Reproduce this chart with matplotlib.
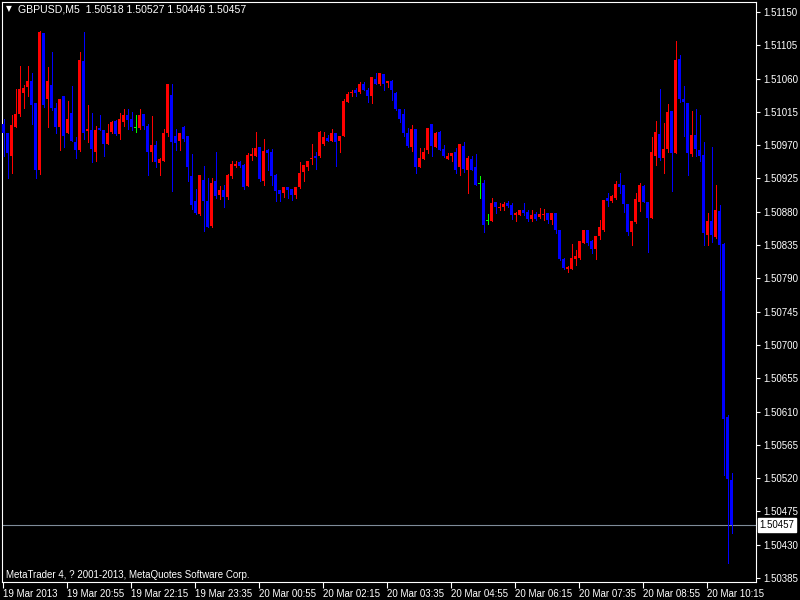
import matplotlib
matplotlib.use("Agg")
import matplotlib.pyplot as plt

# GBPUSD M5, one bar every 5 minutes starting 19 Mar 2013 19:35
opens = [
    1.50998, 1.50986, 1.50956, 1.50995, 1.51012, 1.51041, 1.51049, 1.51057, 1.51027, 1.50937,
    1.51122, 1.51033, 1.51051, 1.51020, 1.50994, 1.51036, 1.50986, 1.51013, 1.50974, 1.50964,
    1.51084, 1.50989, 1.50991, 1.50961, 1.50993, 1.50990, 1.50971, 1.50988, 1.51003, 1.50985,
    1.51002, 1.51011, 1.51006, 1.50993, 1.50993, 1.51012, 1.50996, 1.50961, 1.50970, 1.50946,
    1.50948, 1.50987, 1.51038, 1.50983, 1.50975, 1.50994, 1.50983, 1.50929, 1.50895, 1.50877,
    1.50923, 1.50894, 1.50861, 1.50921, 1.50902, 1.50910, 1.50900, 1.50929, 1.50942, 1.50947,
    1.50943, 1.50915, 1.50956, 1.50956, 1.50967, 1.50921, 1.50964, 1.50961, 1.50930, 1.50910,
    1.50905, 1.50913, 1.50911, 1.50902, 1.50914, 1.50934, 1.50941, 1.50951, 1.50956, 1.50955,
    1.50971, 1.50980, 1.50975, 1.50987, 1.50975, 1.50982, 1.51029, 1.51040, 1.51045, 1.51042,
    1.51053, 1.51045, 1.51037, 1.51060, 1.51053, 1.51066, 1.51054, 1.51057, 1.51040, 1.51019,
    1.51012, 1.50986, 1.50968, 1.50992, 1.50941, 1.50951, 1.50964, 1.50999, 1.50968, 1.50988,
    1.50965, 1.50951, 1.50956, 1.50961, 1.50941, 1.50969, 1.50937, 1.50951, 1.50940, 1.50917,
    1.50919, 1.50868, 1.50868, 1.50893, 1.50885, 1.50887, 1.50892, 1.50889, 1.50875, 1.50875,
    1.50883, 1.50880, 1.50870, 1.50877, 1.50873, 1.50875, 1.50879, 1.50869, 1.50878, 1.50856,
    1.50816, 1.50802, 1.50802, 1.50816, 1.50817, 1.50838, 1.50856, 1.50840, 1.50829, 1.50847,
    1.50856, 1.50899, 1.50894, 1.50898, 1.50918, 1.50916, 1.50891, 1.50853, 1.50866, 1.50893,
    1.50915, 1.50893, 1.50872, 1.50956, 1.50985, 1.50952, 1.50965, 1.51016, 1.50960, 1.51086,
    1.51033, 1.51027, 1.50958, 1.50984, 1.50964, 1.50957, 1.50849, 1.50868, 1.50846, 1.50881,
    1.50836, 1.50603, 1.50518,
]
highs = [
    1.51006, 1.50987, 1.51011, 1.51046, 1.51077, 1.51051, 1.51077, 1.51067, 1.51027, 1.51124,
    1.51122, 1.51076, 1.51096, 1.51027, 1.51033, 1.51036, 1.51030, 1.51050, 1.50981, 1.51096,
    1.51123, 1.51024, 1.51014, 1.50996, 1.51011, 1.50990, 1.50999, 1.51003, 1.51004, 1.51014,
    1.51019, 1.51019, 1.51015, 1.51011, 1.51019, 1.51012, 1.50999, 1.51009, 1.50976, 1.50952,
    1.50992, 1.51053, 1.51053, 1.50992, 1.50987, 1.50996, 1.50983, 1.50958, 1.50911, 1.50930,
    1.50942, 1.50926, 1.50926, 1.50961, 1.50915, 1.50916, 1.50931, 1.50948, 1.50948, 1.50949,
    1.50944, 1.50960, 1.50966, 1.50988, 1.50967, 1.50979, 1.50965, 1.50965, 1.50931, 1.50910,
    1.50914, 1.50913, 1.50911, 1.50914, 1.50947, 1.50943, 1.50949, 1.50972, 1.50961, 1.50989,
    1.50988, 1.50984, 1.50992, 1.50987, 1.50983, 1.51033, 1.51042, 1.51045, 1.51047, 1.51055,
    1.51055, 1.51047, 1.51062, 1.51067, 1.51067, 1.51066, 1.51057, 1.51058, 1.51042, 1.51019,
    1.51019, 1.50993, 1.50997, 1.50992, 1.50966, 1.50966, 1.50993, 1.50999, 1.50988, 1.50989,
    1.50970, 1.50960, 1.50960, 1.50966, 1.50971, 1.50974, 1.50955, 1.50955, 1.50958, 1.50928,
    1.50923, 1.50877, 1.50899, 1.50893, 1.50892, 1.50893, 1.50894, 1.50892, 1.50880, 1.50883,
    1.50892, 1.50883, 1.50883, 1.50880, 1.50885, 1.50884, 1.50879, 1.50879, 1.50878, 1.50856,
    1.50817, 1.50807, 1.50837, 1.50828, 1.50841, 1.50856, 1.50856, 1.50842, 1.50847, 1.50869,
    1.50896, 1.50906, 1.50903, 1.50922, 1.50932, 1.50916, 1.50891, 1.50868, 1.50906, 1.50919,
    1.50916, 1.50893, 1.50981, 1.51003, 1.51046, 1.51000, 1.51026, 1.51016, 1.51111, 1.51092,
    1.51050, 1.51027, 1.51016, 1.51019, 1.51011, 1.50974, 1.50879, 1.50967, 1.50916, 1.50889,
    1.50838, 1.50605, 1.50527,
]
lows = [
    1.50955, 1.50925, 1.50932, 1.50995, 1.51010, 1.51020, 1.51036, 1.50999, 1.50925, 1.50931,
    1.51021, 1.50995, 1.51018, 1.50987, 1.50964, 1.50967, 1.50986, 1.50976, 1.50953, 1.50962,
    1.50979, 1.50974, 1.50947, 1.50949, 1.50990, 1.50956, 1.50971, 1.50986, 1.50984, 1.50979,
    1.50996, 1.50992, 1.50990, 1.50988, 1.50992, 1.50992, 1.50930, 1.50949, 1.50940, 1.50930,
    1.50948, 1.50982, 1.50908, 1.50964, 1.50964, 1.50976, 1.50921, 1.50884, 1.50877, 1.50875,
    1.50854, 1.50859, 1.50860, 1.50899, 1.50897, 1.50886, 1.50897, 1.50926, 1.50940, 1.50941,
    1.50911, 1.50915, 1.50950, 1.50956, 1.50922, 1.50916, 1.50937, 1.50916, 1.50894, 1.50895,
    1.50900, 1.50898, 1.50896, 1.50898, 1.50912, 1.50921, 1.50937, 1.50944, 1.50938, 1.50954,
    1.50970, 1.50975, 1.50975, 1.50942, 1.50961, 1.50982, 1.51029, 1.51037, 1.51037, 1.51041,
    1.51045, 1.51029, 1.51027, 1.51053, 1.51051, 1.51044, 1.51049, 1.51031, 1.51017, 1.51001,
    1.50983, 1.50967, 1.50962, 1.50933, 1.50940, 1.50951, 1.50960, 1.50955, 1.50967, 1.50963,
    1.50954, 1.50951, 1.50948, 1.50932, 1.50930, 1.50934, 1.50906, 1.50937, 1.50916, 1.50899,
    1.50853, 1.50863, 1.50867, 1.50879, 1.50883, 1.50882, 1.50887, 1.50870, 1.50868, 1.50875,
    1.50876, 1.50868, 1.50868, 1.50869, 1.50871, 1.50869, 1.50865, 1.50864, 1.50851, 1.50815,
    1.50802, 1.50798, 1.50802, 1.50808, 1.50816, 1.50838, 1.50835, 1.50824, 1.50816, 1.50843,
    1.50854, 1.50888, 1.50893, 1.50897, 1.50905, 1.50880, 1.50848, 1.50835, 1.50865, 1.50881,
    1.50893, 1.50825, 1.50871, 1.50943, 1.50950, 1.50933, 1.50961, 1.50908, 1.50960, 1.51029,
    1.50982, 1.50930, 1.50955, 1.50956, 1.50948, 1.50835, 1.50835, 1.50839, 1.50844, 1.50774,
    1.50524, 1.50405, 1.50446,
]
closes = [
    1.50986, 1.50960, 1.50997, 1.51012, 1.51046, 1.51047, 1.51057, 1.51024, 1.50937, 1.51123,
    1.51024, 1.51057, 1.51020, 1.50995, 1.51033, 1.50982, 1.51006, 1.50976, 1.50963, 1.51085,
    1.50987, 1.50992, 1.50965, 1.50990, 1.50990, 1.50972, 1.50987, 1.51001, 1.50985, 1.51005,
    1.51011, 1.51004, 1.50995, 1.50993, 1.51011, 1.50996, 1.50961, 1.50970, 1.50947, 1.50951,
    1.50987, 1.51053, 1.50974, 1.50973, 1.50987, 1.50978, 1.50940, 1.50889, 1.50878, 1.50930,
    1.50894, 1.50860, 1.50919, 1.50901, 1.50910, 1.50900, 1.50930, 1.50945, 1.50945, 1.50942,
    1.50913, 1.50957, 1.50958, 1.50966, 1.50924, 1.50962, 1.50960, 1.50929, 1.50908, 1.50904,
    1.50913, 1.50910, 1.50902, 1.50913, 1.50932, 1.50943, 1.50949, 1.50953, 1.50953, 1.50988,
    1.50981, 1.50976, 1.50987, 1.50974, 1.50983, 1.51030, 1.51039, 1.51042, 1.51040, 1.51053,
    1.51045, 1.51037, 1.51062, 1.51053, 1.51067, 1.51053, 1.51057, 1.51045, 1.51019, 1.51005,
    1.50986, 1.50969, 1.50992, 1.50941, 1.50952, 1.50961, 1.50993, 1.50969, 1.50987, 1.50963,
    1.50956, 1.50955, 1.50960, 1.50937, 1.50971, 1.50938, 1.50952, 1.50937, 1.50916, 1.50917,
    1.50862, 1.50868, 1.50892, 1.50886, 1.50887, 1.50890, 1.50888, 1.50875, 1.50878, 1.50883,
    1.50879, 1.50870, 1.50876, 1.50870, 1.50877, 1.50877, 1.50869, 1.50879, 1.50856, 1.50816,
    1.50804, 1.50806, 1.50817, 1.50820, 1.50841, 1.50856, 1.50838, 1.50829, 1.50847, 1.50859,
    1.50896, 1.50895, 1.50901, 1.50918, 1.50914, 1.50891, 1.50853, 1.50868, 1.50897, 1.50916,
    1.50893, 1.50872, 1.50961, 1.50988, 1.50953, 1.50965, 1.51015, 1.50959, 1.51085, 1.51033,
    1.51029, 1.50960, 1.50984, 1.50965, 1.50956, 1.50851, 1.50868, 1.50849, 1.50883, 1.50835,
    1.50600, 1.50519, 1.50457,
]

time_labels = ["19 Mar 2013", "19 Mar 20:55", "19 Mar 22:15", "19 Mar 23:35",
               "20 Mar 00:55", "20 Mar 02:15", "20 Mar 03:35", "20 Mar 04:55",
               "20 Mar 06:15", "20 Mar 07:35", "20 Mar 08:55", "20 Mar 10:15"]
bars_per_label = 16
price_ticks = [1.50385, 1.50430, 1.50475, 1.50520, 1.50565, 1.50610, 1.50655, 1.50700,
               1.50745, 1.50790, 1.50835, 1.50880, 1.50925, 1.50970, 1.51015, 1.51060,
               1.51105, 1.51150]
last_price = 1.50457
header = "GBPUSD,M5  1.50518 1.50527 1.50446 1.50457"
footer = "MetaTrader 4, ? 2001-2013, MetaQuotes Software Corp."

BULL = "#ff0000"
BEAR = "#0000ff"
DOJI = "#00ff00"

plt.rcParams["font.family"] = ["Liberation Sans", "DejaVu Sans"]

fig = plt.figure(figsize=(8, 6), dpi=100)
fig.set_facecolor("black")
ax = fig.add_axes([2 / 800, 18 / 600, 754 / 800, 580 / 600])
ax.set_facecolor("black")

n = len(opens)
xs = list(range(n))
px_per_price = 566 / (price_ticks[-1] - price_ticks[0])
min_body = 1.0 / px_per_price

colors = []
for o, c in zip(opens, closes):
    if c > o:
        colors.append(BULL)
    elif c < o:
        colors.append(BEAR)
    else:
        colors.append(DOJI)

# wicks
ax.vlines(xs, lows, highs, colors=colors, linewidth=0.72, antialiased=False, zorder=2)

# bodies (3 px wide)
bottoms = [min(o, c) for o, c in zip(opens, closes)]
heights = [max(abs(c - o), min_body) for o, c in zip(opens, closes)]
ax.bar(xs, heights, bottom=bottoms, width=0.8, color=colors, linewidth=0,
       antialiased=False, zorder=3)

# current price line
ax.axhline(last_price, color="#7f8c99", linewidth=0.8, zorder=1)

ax.set_xlim(-0.375, (756 - 3.5) / 4)
ax.set_ylim(price_ticks[0] - 4 / px_per_price, price_ticks[-1] + 10 / px_per_price)

for sp in ax.spines.values():
    sp.set_color("white")
    sp.set_linewidth(0.8)

ax.yaxis.tick_right()
ax.set_yticks(price_ticks)
ax.set_yticklabels([f"{p:.5f}" for p in price_ticks])
ax.tick_params(axis="y", colors="white", labelcolor="white", labelsize=7,
               length=3, width=0.8, pad=2)

ax.set_xticks([i * bars_per_label - 0.125 for i in range(len(time_labels))])
ax.set_xticklabels(time_labels)
ax.tick_params(axis="x", colors="white", labelcolor="white", labelsize=7,
               length=4, width=0.8, pad=1)
for lbl in ax.get_xticklabels():
    lbl.set_horizontalalignment("left")

# last price marker on the price scale
ax.annotate(f"{last_price:.5f}", xy=(1.0, last_price),
            xycoords=("axes fraction", "data"), xytext=(2.5, 0),
            textcoords="offset points", va="center", ha="left",
            fontsize=7, color="black",
            bbox=dict(boxstyle="square,pad=0.2", fc="white", ec="white"))

fig.text(6 / 800, 1 - 9 / 600, "\u25bc", color="white", fontsize=5.5, va="center",
         family="DejaVu Sans")
fig.text(18 / 800, 1 - 9 / 600, header, color="white", fontsize=7.6, va="center")
fig.text(6 / 800, 1 - 575 / 600, footer, color="white", fontsize=7, va="center")

fig.savefig("out.png", dpi=100, facecolor="black")
